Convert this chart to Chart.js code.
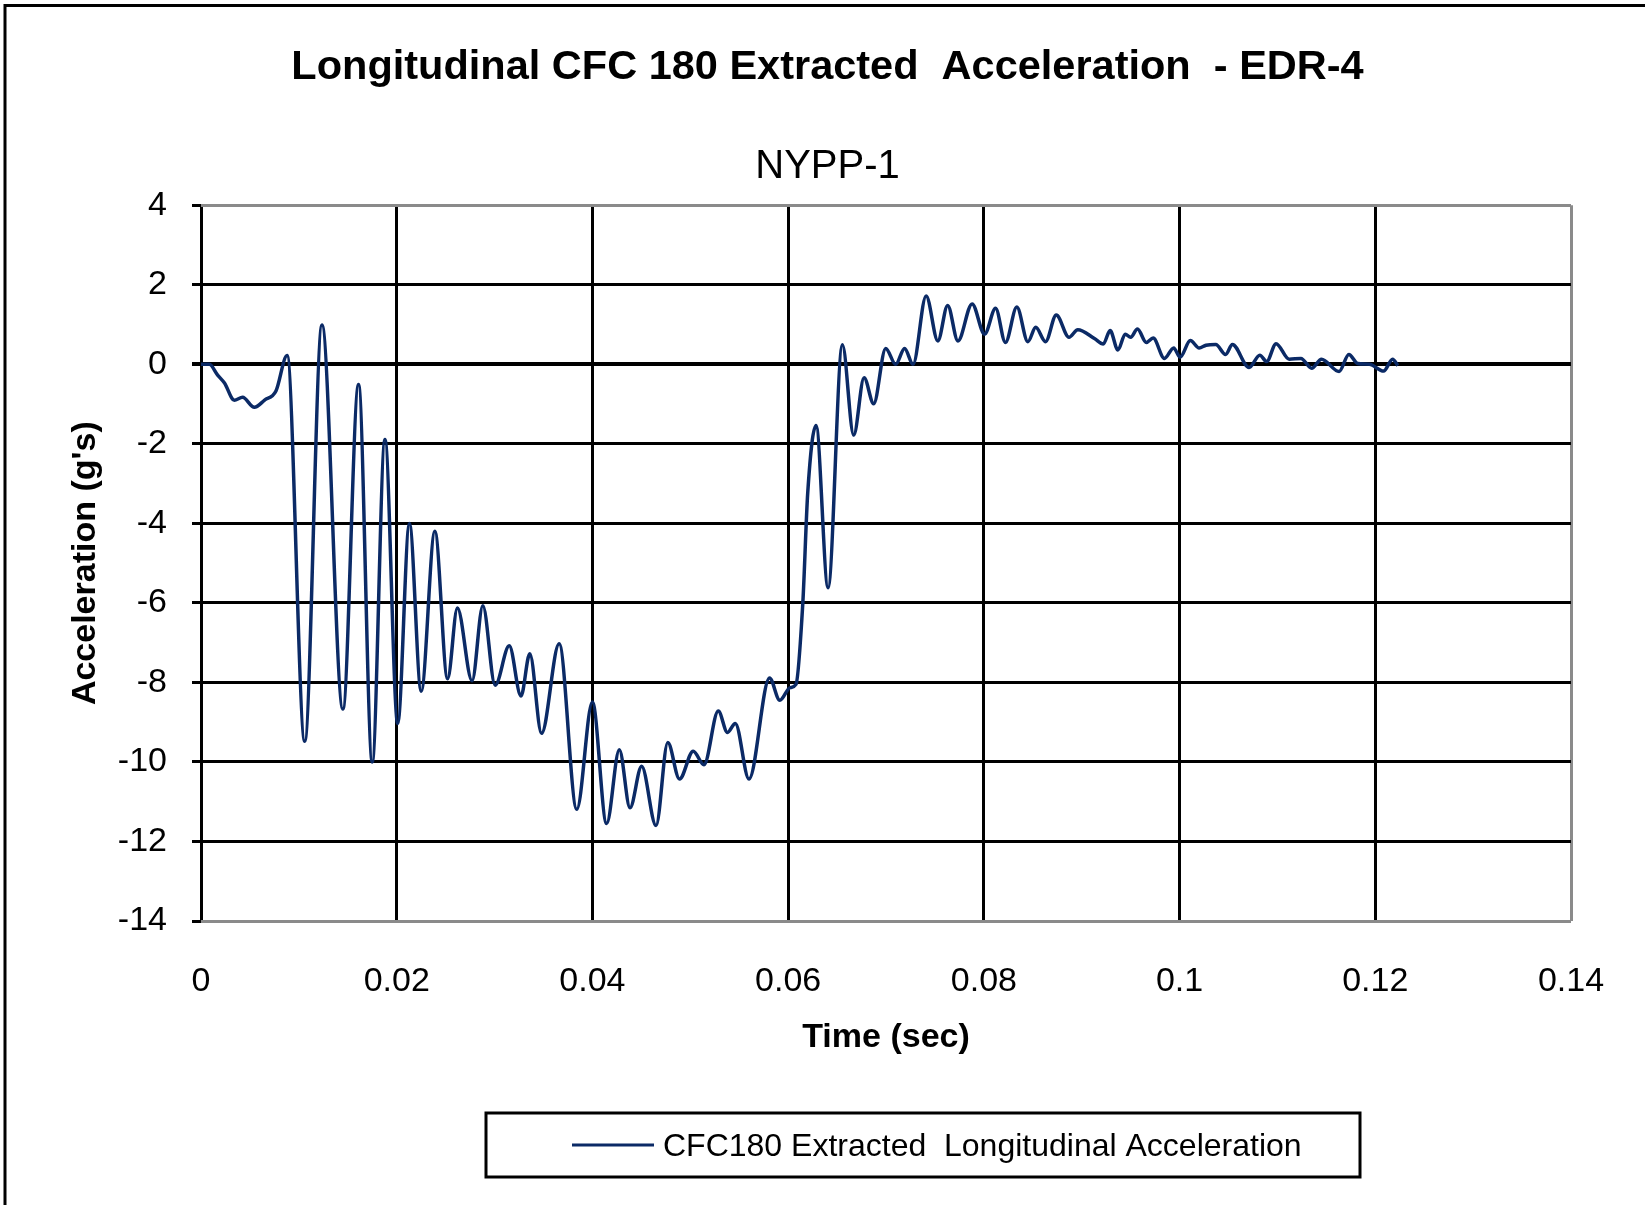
<!DOCTYPE html>
<html>
<head>
<meta charset="utf-8">
<script src="https://cdn.jsdelivr.net/npm/chart.js@4.4.1/dist/chart.umd.min.js"></script>
<style>
  html, body { margin: 0; padding: 0; background: #fff; }
  #wrap { width: 1645px; height: 1205px; }
</style>
</head>
<body>
<div id="wrap"><canvas id="mychart" width="1645" height="1205"></canvas></div>
<script>
// time in seconds, acceleration in g's
const timeSec = [
  0, 0.00085, 0.0017, 0.0024, 0.0034, 0.00425, 0.00545, 0.0065, 0.00766, 0.0088,
  0.0106, 0.01236, 0.0145, 0.0161, 0.0175, 0.0188, 0.0201, 0.0213, 0.0225, 0.0239,
  0.0252, 0.0262, 0.0277, 0.0288, 0.03006, 0.0315, 0.0327, 0.0336, 0.0348, 0.0366,
  0.0384, 0.0400, 0.04145, 0.04275, 0.04384, 0.04503, 0.0465, 0.0477, 0.0489, 0.0503,
  0.0514, 0.05286, 0.0538, 0.0546, 0.0560, 0.0581, 0.05915, 0.0602, 0.0608, 0.0615,
  0.0620, 0.06285, 0.06408, 0.06554, 0.0667, 0.06776, 0.06874, 0.06997, 0.07099, 0.0719,
  0.07276, 0.0741, 0.0753, 0.0763, 0.07735, 0.0788, 0.08007, 0.0812, 0.0822, 0.08337,
  0.0845, 0.0853, 0.0863, 0.0874, 0.0887, 0.0896, 0.0913, 0.0922, 0.0929, 0.0937,
  0.09445, 0.0950, 0.0957, 0.0966, 0.0973, 0.09845, 0.0994, 0.10005, 0.1011, 0.1020,
  0.1027, 0.1037, 0.1047, 0.1054, 0.1071, 0.1082, 0.1089, 0.10986, 0.1112, 0.1124,
  0.1135, 0.1145, 0.1163, 0.1173, 0.1182, 0.1194, 0.12085, 0.12177, 0.1223
];
const accelG = [
  0, 0, -0.27, -0.47, -0.9, -0.83, -1.08, -0.9, -0.67, 0.22,
  -9.48, 0.99, -8.67, -0.51, -10.0, -1.89, -9.03, -4.0, -8.22, -4.2,
  -7.91, -6.13, -7.96, -6.07, -8.07, -7.08, -8.34, -7.28, -9.28, -7.03,
  -11.19, -8.49, -11.55, -9.69, -11.15, -10.11, -11.6, -9.51, -10.43, -9.73,
  -10.07, -8.72, -9.26, -9.03, -10.43, -7.89, -8.45, -8.13, -8.05, -6.0,
  -3.24, -1.54, -5.62, 0.49, -1.78, -0.34, -0.99, 0.40, 0.0, 0.40,
  0.0, 1.72, 0.59, 1.48, 0.59, 1.52, 0.76, 1.41, 0.55, 1.44,
  0.57, 0.93, 0.57, 1.24, 0.68, 0.87, 0.65, 0.51, 0.85, 0.36,
  0.76, 0.68, 0.89, 0.55, 0.66, 0.15, 0.41, 0.18, 0.6, 0.41,
  0.48, 0.5, 0.25, 0.5, -0.08, 0.23, 0.07, 0.52, 0.13, 0.15,
  -0.1, 0.13, -0.18, 0.25, 0.02, 0.0, -0.17, 0.13, -0.03
];
const xTicks = [0, 0.02, 0.04, 0.06, 0.08, 0.1, 0.12, 0.14];
const yTicks = [4, 2, 0, -2, -4, -6, -8, -10, -12, -14];
const seriesLabel = 'CFC180 Extracted  Longitudinal Acceleration';
const lineColor = '#0b2a66';

Chart.defaults.font.family = "'Liberation Sans', Arial, sans-serif";
Chart.defaults.color = '#000';

// white page, outer frame and boxed legend
const framePlugin = {
  id: 'frame',
  beforeDraw(chart) {
    const c = chart.ctx;
    c.save();
    c.fillStyle = '#fff';
    c.fillRect(0, 0, chart.width, chart.height);
    c.strokeStyle = '#000';
    c.lineWidth = 3;
    c.beginPath();
    c.moveTo(5, chart.height);
    c.lineTo(5, 5.5);
    c.lineTo(chart.width, 5.5);
    c.stroke();
    c.restore();
  },
  afterDraw(chart) {
    const c = chart.ctx;
    const ds = chart.data.datasets[0];
    c.save();
    c.strokeStyle = '#000';
    c.lineWidth = 3;
    c.strokeRect(486, 1113, 874, 64);
    c.strokeStyle = ds.borderColor;
    c.lineWidth = 3;
    c.beginPath();
    c.moveTo(572, 1145);
    c.lineTo(654, 1145);
    c.stroke();
    c.fillStyle = '#000';
    c.font = "32px 'Liberation Sans', Arial, sans-serif";
    c.textBaseline = 'middle';
    c.textAlign = 'left';
    c.fillText(ds.label, 663, 1147);
    c.restore();
  }
};

const ctx = document.getElementById('mychart');

new Chart(ctx, {
  type: 'line',
  data: {
    datasets: [{
      label: seriesLabel,
      data: timeSec.map((t, i) => ({ x: t, y: accelG[i] })),
      borderColor: lineColor,
      backgroundColor: lineColor,
      borderWidth: 3.5,
      pointRadius: 0,
      cubicInterpolationMode: 'monotone',
      fill: false
    }]
  },
  options: {
    responsive: false,
    animation: false,
    layout: {
      padding: { left: 10, right: 0, top: 0, bottom: 134 }
    },
    scales: {
      x: {
        type: 'linear',
        min: 0,
        max: 0.14,
        afterBuildTicks: s => { s.ticks = xTicks.map(v => ({ value: v })); },
        afterFit: s => { s.height = 150; s.paddingRight = 74; },
        ticks: {
          padding: 40,
          font: { size: 34 },
          maxRotation: 0,
          callback: v => String(Number(v.toFixed(2)))
        },
        grid: {
          drawTicks: false,
          lineWidth: 3,
          color: c => (c.tick && Math.abs(c.tick.value - 0.14) < 1e-9) ? '#8a8a8a' : '#000'
        },
        border: { display: false },
        title: {
          display: true,
          text: 'Time (sec)',
          font: { size: 34, weight: 'bold' },
          padding: { top: 0, bottom: 13 }
        }
      },
      y: {
        min: -14,
        max: 4,
        afterBuildTicks: s => { s.ticks = yTicks.map(v => ({ value: v })); },
        afterFit: s => { s.width = 191; },
        ticks: {
          padding: 25,
          font: { size: 34 }
        },
        grid: {
          drawTicks: true,
          tickLength: 9,
          tickColor: '#000',
          lineWidth: c => (c.tick && c.tick.value === 0) ? 4 : 3,
          color: c => (c.tick && (c.tick.value === 4 || c.tick.value === -14)) ? '#8a8a8a' : '#000'
        },
        border: { display: false },
        title: {
          display: true,
          text: "Acceleration (g's)",
          font: { size: 34, weight: 'bold' },
          padding: { top: 55, bottom: 0 }
        }
      }
    },
    plugins: {
      legend: { display: false },
      tooltip: { enabled: false },
      title: {
        display: true,
        text: 'Longitudinal CFC 180 Extracted  Acceleration  - EDR-4',
        font: { size: 41.5, weight: 'bold' },
        color: '#000',
        padding: { top: 43, bottom: 0 }
      },
      subtitle: {
        display: true,
        text: 'NYPP-1',
        font: { size: 40, weight: 'normal' },
        color: '#000',
        padding: { top: 50.5, bottom: 14 }
      }
    }
  },
  plugins: [framePlugin]
});
</script>
</body>
</html>
